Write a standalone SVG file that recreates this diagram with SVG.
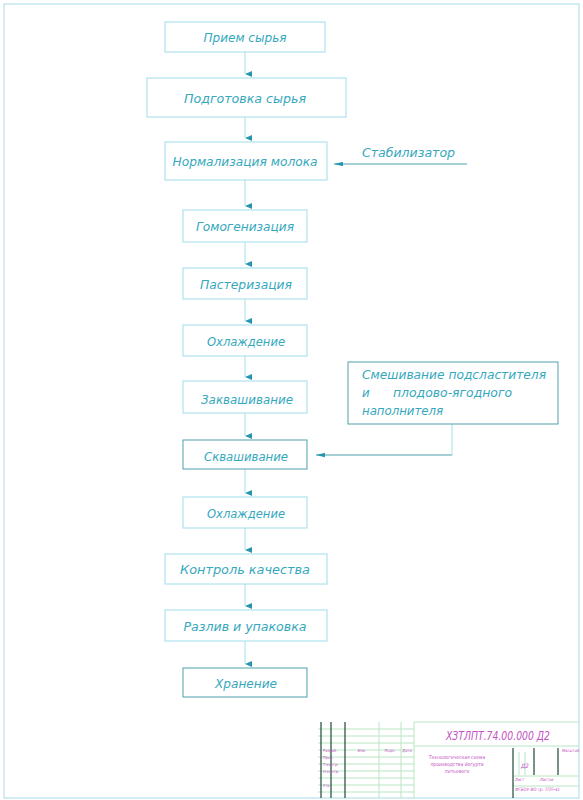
<svg xmlns="http://www.w3.org/2000/svg" width="583" height="800" viewBox="0 0 583 800">
<style>
.bx{fill:none;stroke:#9fdcea;stroke-width:1}
.bxd{fill:none;stroke:#4f9fae;stroke-width:1}
.t{font-family:"DejaVu Sans Condensed","DejaVu Sans",sans-serif;font-style:italic;font-size:13px;fill:#35a8bd;text-anchor:middle}
.tl{font-family:"DejaVu Sans Condensed","DejaVu Sans",sans-serif;font-style:italic;font-size:13px;fill:#35a8bd}
.cn{fill:none;stroke:#a6e0ec;stroke-width:1}
.cnd{fill:none;stroke:#4f9fae;stroke-width:1}
.tb{fill:none;stroke:#1f4a38;stroke-width:1.2}
.tg{fill:none;stroke:#b9e6c3;stroke-width:1}
.tm{font-family:"DejaVu Sans Condensed","DejaVu Sans",sans-serif;font-style:italic;fill:#c452c4}
</style>
<defs>
<marker id="ad" markerWidth="6" markerHeight="7" refX="3" refY="7" orient="auto" markerUnits="userSpaceOnUse" viewBox="0 0 6 7">
<path d="M0,0 L6,0 L3,7 z" fill="#2596ad"/>
</marker>
<marker id="al" markerWidth="9" markerHeight="5" refX="0" refY="2.5" markerUnits="userSpaceOnUse" viewBox="0 0 9 5">
<path d="M0,2.5 L9,0.3 L9,4.7 z" fill="#2596ad"/>
</marker>
</defs>
<rect x="4" y="4" width="575" height="794" fill="none" stroke="#a9dbe8" stroke-width="1"/>

<g id="connectors">
<path class="cn" d="M245,52 V74" marker-end="url(#ad)"/>
<path class="cn" d="M245,117 V138" marker-end="url(#ad)"/>
<path class="cn" d="M245,180 V206" marker-end="url(#ad)"/>
<path class="cn" d="M245,242 V264" marker-end="url(#ad)"/>
<path class="cn" d="M245,299 V321" marker-end="url(#ad)"/>
<path class="cn" d="M245,356 V377" marker-end="url(#ad)"/>
<path class="cn" d="M245,413 V436" marker-end="url(#ad)"/>
<path class="cn" d="M245,469 V493" marker-end="url(#ad)"/>
<path class="cn" d="M245,528 V550" marker-end="url(#ad)"/>
<path class="cn" d="M245,584 V606" marker-end="url(#ad)"/>
<path class="cn" d="M245,641 V664" marker-end="url(#ad)"/>
<path class="cnd" d="M467,164 H334" marker-end="url(#al)"/>
<path class="cn" d="M452,424 V455"/>
<path class="cnd" d="M452,455 H316" marker-end="url(#al)"/>
</g>

<g id="n1"><rect class="bx" x="165" y="22" width="160" height="30"/><text class="t" x="245" y="42" textLength="83" lengthAdjust="spacingAndGlyphs">Прием сырья</text></g>
<g id="n2"><rect class="bx" x="147" y="78" width="199" height="39"/><text class="t" x="245" y="103" textLength="122" lengthAdjust="spacingAndGlyphs">Подготовка сырья</text></g>
<g id="n3"><rect class="bx" x="165" y="142" width="162" height="38"/><text class="t" x="245" y="166" textLength="145" lengthAdjust="spacingAndGlyphs">Нормализация молока</text></g>
<g id="n4"><rect class="bx" x="183" y="210" width="124" height="32"/><text class="t" x="245" y="231" textLength="98" lengthAdjust="spacingAndGlyphs">Гомогенизация</text></g>
<g id="n5"><rect class="bx" x="183" y="268" width="124" height="31"/><text class="t" x="246" y="289" textLength="92" lengthAdjust="spacingAndGlyphs">Пастеризация</text></g>
<g id="n6"><rect class="bx" x="183" y="325" width="124" height="31"/><text class="t" x="246" y="346" textLength="78" lengthAdjust="spacingAndGlyphs">Охлаждение</text></g>
<g id="n7"><rect class="bx" x="183" y="381" width="124" height="32"/><text class="t" x="247" y="404" textLength="92" lengthAdjust="spacingAndGlyphs">Заквашивание</text></g>
<g id="n8"><rect class="bxd" x="183" y="440" width="124" height="29"/><text class="t" x="246" y="461" textLength="84" lengthAdjust="spacingAndGlyphs">Сквашивание</text></g>
<g id="n9"><rect class="bx" x="183" y="497" width="124" height="31"/><text class="t" x="246" y="518" textLength="78" lengthAdjust="spacingAndGlyphs">Охлаждение</text></g>
<g id="n10"><rect class="bx" x="165" y="554" width="162" height="30"/><text class="t" x="245" y="574" textLength="130" lengthAdjust="spacingAndGlyphs">Контроль качества</text></g>
<g id="n11"><rect class="bx" x="165" y="610" width="162" height="31"/><text class="t" x="245" y="631" textLength="123" lengthAdjust="spacingAndGlyphs">Разлив и упаковка</text></g>
<g id="n12"><rect class="bxd" x="183" y="668" width="124" height="29"/><text class="t" x="246" y="688" textLength="62" lengthAdjust="spacingAndGlyphs">Хранение</text></g>

<g id="stab"><text class="tl" x="362" y="157" textLength="93" lengthAdjust="spacingAndGlyphs">Стабилизатор</text></g>
<g id="mix"><rect class="bxd" x="348" y="362" width="210" height="62"/>
<text class="tl" x="362" y="379" textLength="184" lengthAdjust="spacingAndGlyphs">Смешивание подсластителя</text>
<text class="tl" x="362" y="397">и</text>
<text class="tl" x="393" y="397" textLength="119" lengthAdjust="spacingAndGlyphs">плодово-ягодного</text>
<text class="tl" x="362" y="415" textLength="81" lengthAdjust="spacingAndGlyphs">наполнителя</text>
</g>

<g id="titleblock">
<path class="tg" d="M318,729 H414 M318,736 H414 M318,743 H414 M318,750 H414 M318,757 H414 M318,764 H414 M318,771 H414 M318,778 H414 M318,785 H414 M318,792 H414"/>
<path class="tg" d="M379,722 V798 M401,722 V798 M414,722 V798 M519,752 V775 M525,752 V775"/>
<path class="tg" d="M414,722 H579 M414,746 H579 M513,776 H579 M513,786 H579"/>
<path class="tb" d="M321,722 V798 M331,722 V798 M345,722 V798 M513,748 V798 M534,748 V775 M558,748 V775"/>
<text class="tm" x="498" y="740" font-size="13" text-anchor="middle" textLength="104" lengthAdjust="spacingAndGlyphs">ХЗТЛПТ.74.00.000 Д2</text>
<text class="tm" x="457" y="759" font-size="5" text-anchor="middle">Технологическая схема</text>
<text class="tm" x="457" y="766" font-size="5" text-anchor="middle">производства йогурта</text>
<text class="tm" x="457" y="773" font-size="5" text-anchor="middle">питьевого</text>
<text class="tm" x="362" y="752" font-size="4" text-anchor="middle">Изм.</text>
<text class="tm" x="390" y="752" font-size="4" text-anchor="middle">Подп.</text>
<text class="tm" x="407" y="752" font-size="4" text-anchor="middle">Дата</text>
<text class="tm" x="323" y="752" font-size="4">Разраб.</text>
<text class="tm" x="323" y="759" font-size="4">Пров.</text>
<text class="tm" x="323" y="766" font-size="4">Т.контр.</text>
<text class="tm" x="323" y="773" font-size="4">Н.контр.</text>
<text class="tm" x="323" y="787" font-size="4">Утв.</text>
<text class="tm" x="521" y="768" font-size="6">Д2</text>
<text class="tm" x="540" y="781" font-size="4">Листов</text>
<text class="tm" x="515" y="781" font-size="4">Лист</text>
<text class="tm" x="562" y="752" font-size="4">Масштаб</text>
<text class="tm" x="515" y="791" font-size="4.5">ФГБОУ ВО гр. ТПП-41</text>
</g>
</svg>
